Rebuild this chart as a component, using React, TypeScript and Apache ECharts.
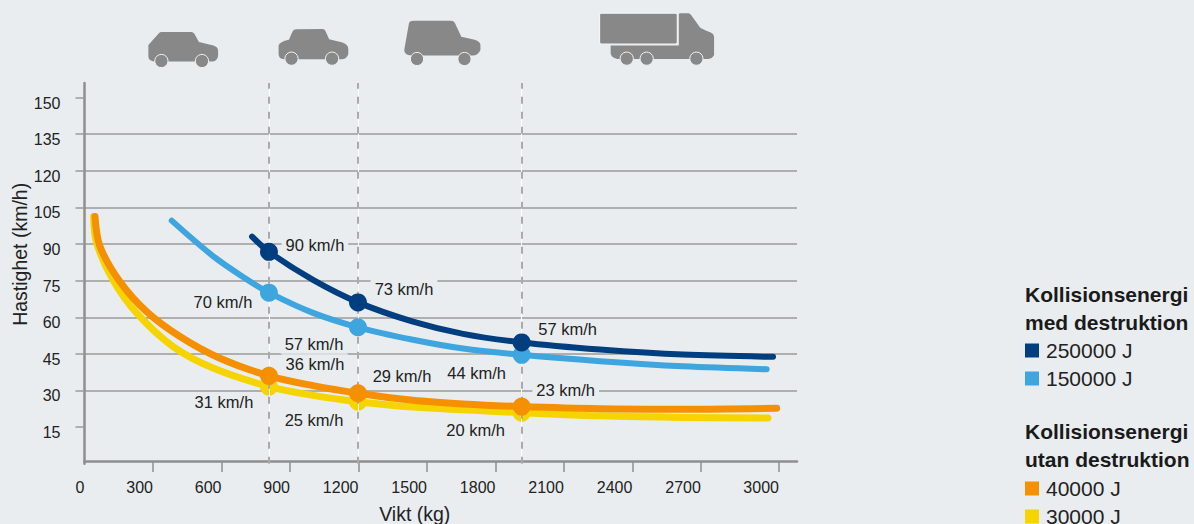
import React, { useEffect, useRef } from "react";
import * as echarts from "echarts";

const xTickPositions = [300, 600, 900, 1200, 1500, 1800, 2100, 2400, 2700, 3042];
const xLabelPositions = [0, ...xTickPositions];
const xTickLabels = ["0", "300", "600", "900", "1200", "1500", "1800", "2100", "2400", "2700", "3000"];
const yTicks = [15, 30, 45, 60, 75, 90, 105, 120, 135, 150];

const darkCurve = [[734, 93], [808, 86.8], [1001, 75.3], [1198, 66.1], [1439, 58.2], [1658, 53.2], [1915, 49.7], [2258, 46.8], [2622, 44.7], [3016, 43.8]];
const lightCurve = [[382, 99.6], [563, 85.1], [710, 75.6], [808, 70.1], [1001, 61.8], [1198, 55.9], [1439, 50.8], [1658, 47.2], [1915, 44.6], [2258, 42], [2622, 39.9], [2988, 38.7]];
const orangeCurve = [[46, 101.3], [68, 89], [155, 74.6], [272, 62.3], [418, 52.1], [593, 43.2], [808, 36], [1001, 32], [1198, 28.9], [1439, 26], [1658, 24.5], [1915, 23.4], [2258, 22.5], [2622, 22.3], [3032, 22.7]];
const yellowCurve = [[40, 101.3], [53, 90.5], [125, 75.3], [229, 61.7], [388, 48], [563, 39.2], [808, 31.6], [1001, 28], [1198, 25.4], [1439, 23.2], [1915, 20.9], [2258, 19.6], [2622, 18.9], [2994, 18.7]];

const markerX = [808, 1198, 1915];
const darkMarkers = [86.8, 66.1, 49.7];
const lightMarkers = [70.1, 55.9, 44.6];
const orangeMarkers = [36, 28.9, 23.4];
const yellowMarkers = [31.6, 25.4, 20.9];
const darkLabels = ["90 km/h", "73 km/h", "57 km/h"];
const lightLabels = ["70 km/h", "57 km/h", "44 km/h"];
const orangeLabels = ["36 km/h", "29 km/h", "23 km/h"];
const yellowLabels = ["31 km/h", "25 km/h", "20 km/h"];

const BG = "#e9edf0";
const TEXT = "#222222";
const FONT = "Liberation Sans";
const COLORS = { dark: "#003f7f", light: "#3fa5df", orange: "#f59100", yellow: "#f5d400" };
const ICON = "#888888";

const carA = "M48 135 L76 99 Q78 96 82 96 L160 96 Q165 96 168 101 L180 126 L218 137 Q230 142 230 152 L230 168 Q228 182 216 185 L62 185 Q48 182 48 170 Z";
const carB = "M388 137 Q390 125 415 119 L424 95 Q427 88 434 88 L503 87 Q508 87 510 92 L520 118 L555 128 Q570 134 570 148 L570 162 Q566 178 552 178 L402 178 Q388 176 388 162 Z";
const suv = "M728 72 Q729 62 740 62 L838 62 Q845 62 848 68 L865 110 L900 119 Q915 124 915 136 L915 150 Q908 167 895 167 L735 167 Q716 165 716 150 Z";
const truckCab = "M1433 43 Q1433 40 1437 40 L1458 40 Q1462 40 1465 45 L1488 82 Q1492 87 1515 97 Q1525 102 1525 112 L1525 165 Q1520 177 1508 177 L1272 177 Q1255 172 1255 160 L1255 137 L1433 137 Z";
const truckBox = "M1226 44 Q1226 40 1230 40 L1425 40 Q1429 40 1429 44 L1429 128 Q1429 132 1425 132 L1230 132 Q1226 132 1226 128 Z";
const vehicleWheels = [[82, 183], [188, 183], [422, 176], [528, 176], [750, 177], [874, 177], [1298, 176], [1350, 176], [1480, 176]];

echarts.graphic.registerShape("carA", echarts.graphic.extendPath(carA, {}));
echarts.graphic.registerShape("carB", echarts.graphic.extendPath(carB, {}));
echarts.graphic.registerShape("suv", echarts.graphic.extendPath(suv, {}));
echarts.graphic.registerShape("truckCab", echarts.graphic.extendPath(truckCab, {}));
echarts.graphic.registerShape("truckBox", echarts.graphic.extendPath(truckBox, {}));

const SX = 1 / 2.613;
const SY = 1 / 3;

const curve = (name: string, data: number[][], color: string, width: number, z: number) => ({
  type: "line", name, data, smooth: 0.33, showSymbol: false, symbol: "none", silent: true, z,
  itemStyle: { color },
  lineStyle: { color, width, cap: "round", join: "round" },
});

const markers = (name: string, ys: number[], labels: string[], offs: number[][], color: string, z: number) => ({
  type: "scatter", name, symbolSize: 18, silent: true, z, itemStyle: { color, opacity: 1 },
  data: markerX.map((x, i) => ({
    value: [x, ys[i]],
    label: {
      show: true, position: "inside", offset: offs[i], formatter: labels[i],
      color: TEXT, fontFamily: FONT, fontSize: 16.5, backgroundColor: BG, padding: [1, 4],
    },
  })),
});

const guide = (color: string, width: number, type: any, z: number) => ({
  type: "line", silent: true, z, data: [],
  markLine: {
    silent: true, symbol: "none", animation: false, label: { show: false },
    lineStyle: { color, width, type, opacity: 1 },
    data: markerX.map((x) => ({ xAxis: x })),
  },
});

export default function App() {
  const ref = useRef<HTMLDivElement>(null);
  useEffect(() => {
    document.body.style.margin = "0";
    const chart = echarts.init(ref.current!, undefined, { renderer: "svg" });
    const legendBase = {
      orient: "vertical", left: 1025, padding: 0, height: 70, itemWidth: 14, itemHeight: 14, itemGap: 7, icon: "rect", selectedMode: false,
      textStyle: { color: TEXT, fontFamily: FONT, fontSize: 21, padding: [0, 0, 0, 2] },
    };
    const title = (text: string, y: number) => ({
      type: "text", left: 1025, top: y - 12,
      style: { text, fill: "#1a1a1a", font: `bold 21px "${FONT}"` },
    });
    const icon = (type: string) => ({
      type, x: 130, y: 0, scaleX: SX, scaleY: SY, style: { fill: ICON },
    });
    chart.setOption({
      animation: false,
      backgroundColor: BG,
      grid: { left: 84.5, right: 397, top: 83, bottom: 60.3, containLabel: false, outerBoundsMode: "none" },
      xAxis: {
        type: "value", min: 0, max: 3121, offset: -2.7,
        name: "Vikt (kg)", nameLocation: "middle", nameGap: 43,
        nameTextStyle: { color: TEXT, fontFamily: FONT, fontSize: 19.5, padding: [0, 52, 0, 0] },
        splitLine: { show: false },
        axisLine: { show: true, onZero: false, lineStyle: { color: "#8e8e8e", width: 2.5 } },
        axisTick: { show: true, length: 11, customValues: xTickPositions, lineStyle: { color: "#8e8e8e", width: 1.5 } },
        axisLabel: {
          customValues: xLabelPositions, margin: 18, align: "right", color: TEXT, fontFamily: FONT, fontSize: 16,
          formatter: (v: number) => xTickLabels[xLabelPositions.indexOf(v)] ?? "",
        },
      },
      yAxis: {
        type: "value", min: 0, max: 156, interval: 15,
        name: "Hastighet (km/h)", nameLocation: "middle", nameGap: 55, nameRotate: 90, nameMoveOverlap: false,
        nameTextStyle: { color: TEXT, fontFamily: FONT, fontSize: 19.5, padding: [0, 0, 0, 38] },
        splitLine: { show: true, showMinLine: false, showMaxLine: false, lineStyle: { color: "#9a9a9a", width: 1.5 } },
        axisLine: { show: true, onZero: false, lineStyle: { color: "#8e8e8e", width: 2.5 } },
        axisTick: { show: true, length: 9, customValues: yTicks, lineStyle: { color: "#9a9a9a", width: 1.5 } },
        axisLabel: {
          customValues: yTicks, margin: 24, color: TEXT, fontFamily: FONT, fontSize: 16, verticalAlign: "top", lineHeight: 11,
        },
      },
      legend: [
        { ...legendBase, top: 340, data: ["250000 J", "150000 J"] },
        { ...legendBase, top: 478, data: ["40000 J", "30000 J"] },
      ],
      graphic: [
        icon("carA"), icon("carB"), icon("suv"), icon("truckCab"),
        { ...icon("truckBox"), style: { fill: ICON, stroke: "#f2f4f5", lineWidth: 3 } },
        ...vehicleWheels.map(([x, y]) => ({
          type: "circle", shape: { cx: 130 + x * SX, cy: y * SY, r: 6.6 },
          style: { fill: ICON, stroke: "#f2f4f5", lineWidth: 1 },
        })),
        title("Kollisionsenergi", 296), title("med destruktion", 324),
        title("Kollisionsenergi", 433), title("utan destruktion", 461),
      ],
      series: [
        guide("#ffffff", 1, "solid", 1),
        guide("#aaaaaa", 2, [7, 8], 2),
        curve("30000 J", yellowCurve, COLORS.yellow, 7, 3),
        markers("30000 J", yellowMarkers, yellowLabels, [[-45, 15], [-44, 18], [-46, 17]], COLORS.yellow, 4),
        curve("40000 J", orangeCurve, COLORS.orange, 7, 5),
        markers("40000 J", orangeMarkers, orangeLabels, [[46, -12], [44, -17], [44, -17]], COLORS.orange, 6),
        curve("150000 J", lightCurve, COLORS.light, 6, 7),
        markers("150000 J", lightMarkers, lightLabels, [[-46, 9], [-44, 17], [-45, 18]], COLORS.light, 8),
        curve("250000 J", darkCurve, COLORS.dark, 6, 9),
        markers("250000 J", darkMarkers, darkLabels, [[46, -7], [46, -13.5], [46, -13.5]], COLORS.dark, 10),
      ],
    });
    return () => chart.dispose();
  }, []);
  return <div ref={ref} style={{ width: 1194, height: 524 }} />;
}
